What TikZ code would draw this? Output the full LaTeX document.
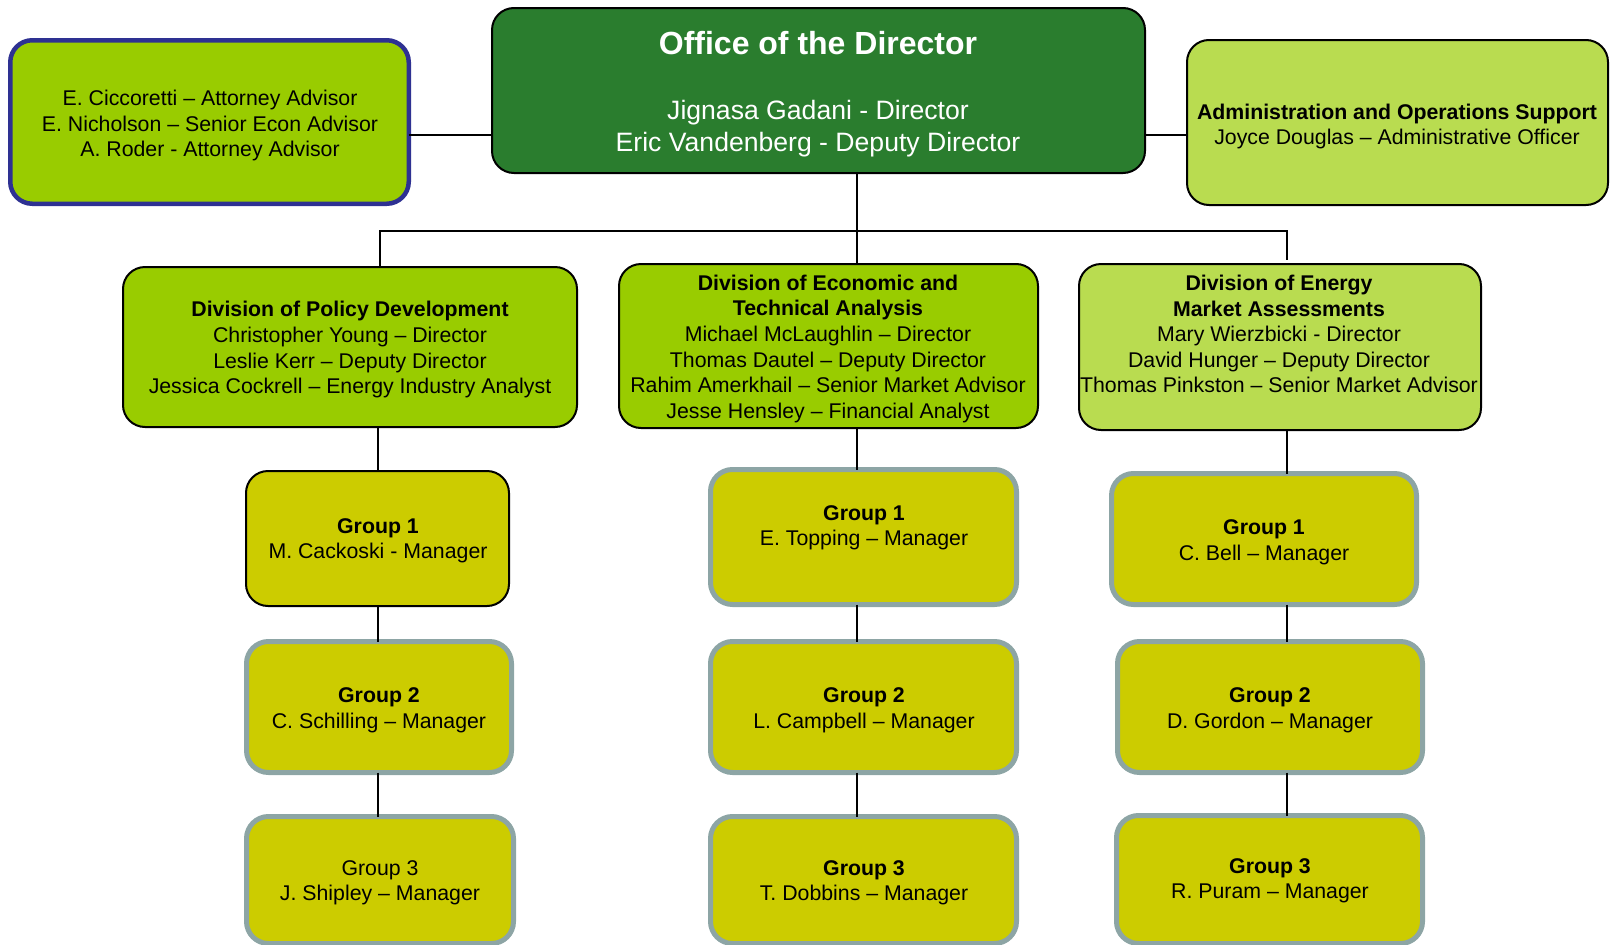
\documentclass[tikz,border=0pt]{standalone}
\usepackage{fontspec}
\setmainfont{Liberation Sans}
\definecolor{officegreen}{RGB}{42,125,46}
\definecolor{lime}{RGB}{153,204,0}
\definecolor{lightlime}{RGB}{185,220,80}
\definecolor{grpfill}{RGB}{204,204,0}
\definecolor{grpline}{RGB}{141,165,165}
\definecolor{navyline}{RGB}{46,49,146}
\tikzset{
  box/.style={rectangle, rounded corners=22pt, draw=black, line width=2pt, inner sep=0pt, outer sep=0pt},
  grp/.style={box, fill=grpfill, draw=grpline, line width=5pt},
  txt/.style={align=center, inner sep=0pt, font=\fontsize{21.3}{25.6}\selectfont},
  conn/.style={line width=2pt, draw=black},
}
\begin{document}
\begin{tikzpicture}[x=1pt, y=-1pt]
\useasboundingbox (0,0) rectangle (1610,945);
% coordinates for connector lines
\coordinate (colL) at (378,0);
\coordinate (colM) at (857,0);
\coordinate (colR) at (1287,0);
\coordinate (busy) at (0,231);
\coordinate (linky) at (0,135);
\coordinate (busL) at (380,231);

% top row
\node[box, draw=navyline, line width=4.5pt, fill=lime, minimum width=398.5pt, minimum height=163.5pt] (adv) at (209.5,122) {};
\node[box, fill=officegreen, minimum width=653pt, minimum height=165pt] (office) at (818.5,90.5) {};
\node[box, fill=lightlime, minimum width=421pt, minimum height=165pt] (admin) at (1397.5,122.5) {};

% divisions
\node[box, fill=lime, minimum width=454pt, minimum height=160pt] (policy) at (350,347) {};
\node[box, fill=lime, minimum width=419pt, minimum height=164pt] (econ) at (828.5,346) {};
\node[box, fill=lightlime, minimum width=402pt, minimum height=166pt] (energy) at (1280,347) {};

% groups
\node[box, fill=grpfill, minimum width=263pt, minimum height=135pt] (gL1) at (377.5,538.5) {};
\node[grp, minimum width=265pt, minimum height=131pt] (gL2) at (379,707) {};
\node[grp, minimum width=267pt, minimum height=127pt] (gL3) at (380,880) {};
\node[grp, minimum width=306pt, minimum height=135pt] (gM1) at (863.5,537) {};
\node[grp, minimum width=306pt, minimum height=131pt] (gM2) at (863.5,707) {};
\node[grp, minimum width=306pt, minimum height=127pt] (gM3) at (863.5,880) {};
\node[grp, minimum width=305pt, minimum height=131pt] (gR1) at (1264,539) {};
\node[grp, minimum width=305pt, minimum height=131pt] (gR2) at (1270,707) {};
\node[grp, minimum width=306pt, minimum height=128pt] (gR3) at (1269.5,879.5) {};

% connectors
\draw[conn] (adv.east |- linky) -- (office.west |- linky);
\draw[conn] (office.east |- linky) -- (admin.west |- linky);
\draw[conn] (office.south -| colM) -- (econ.north -| colM);
\draw[conn] (policy.north -| busL) -- (busL) -- (busy -| colR) -- ([yshift=4pt]energy.north -| colR);
\draw[conn] (policy.south -| colL) -- (gL1.north -| colL);
\draw[conn] (gL1.south -| colL) -- (gL2.north -| colL);
\draw[conn] (gL2.south -| colL) -- (gL3.north -| colL);
\draw[conn] (econ.south -| colM) -- (gM1.north -| colM);
\draw[conn] (gM1.south -| colM) -- (gM2.north -| colM);
\draw[conn] (gM2.south -| colM) -- (gM3.north -| colM);
\draw[conn] (energy.south -| colR) -- (gR1.north -| colR);
\draw[conn] (gR1.south -| colR) -- (gR2.north -| colR);
\draw[conn] (gR2.south -| colR) -- (gR3.north -| colR);

% texts
\node[txt] (advt) at (210,125.5) {E. Ciccoretti -- Attorney Advisor\\E. Nicholson -- Senior Econ Advisor\\A. Roder - Attorney Advisor};
\node[inner sep=0pt, text=white, font=\fontsize{32}{38}\selectfont\bfseries] (officet) at (818,43) {Office of the Director};
\node[txt, text=white, font=\fontsize{26.6}{32}\selectfont] (officen) at (818,128.8) {Jignasa Gadani - Director\\Eric Vandenberg - Deputy Director};
\node[txt] (admint) at (1397,126.3) {\textbf{Administration and Operations Support}\\Joyce Douglas -- Administrative Officer};
\node[txt] (policyt) at (350,349.75) {\textbf{Division of Policy Development}\\Christopher Young -- Director\\Leslie Kerr -- Deputy Director\\Jessica Cockrell -- Energy Industry Analyst};
\node[txt] (econt) at (828,348.75) {\textbf{Division of Economic and}\\\textbf{Technical Analysis}\\Michael McLaughlin -- Director\\Thomas Dautel -- Deputy Director\\Rahim Amerkhail -- Senior Market Advisor\\Jesse Hensley -- Financial Analyst};
\node[txt] (energyt) at (1279,334) {\textbf{Division of Energy}\\\textbf{Market Assessments}\\Mary Wierzbicki - Director\\David Hunger -- Deputy Director\\Thomas Pinkston -- Senior Market Advisor};

\node[txt] (gL1t) at (378,540.75) {\textbf{Group 1}\\M. Cackoski - Manager};
\node[txt] (gL2t) at (379,710.25) {\textbf{Group 2}\\C. Schilling -- Manager};
\node[txt] (gL3t) at (380,882.75) {Group 3\\J. Shipley -- Manager};
\node[txt] (gM1t) at (864,527.75) {\textbf{Group 1}\\E. Topping -- Manager};
\node[txt] (gM2t) at (864,710.25) {\textbf{Group 2}\\L. Campbell -- Manager};
\node[txt] (gM3t) at (864,882.75) {\textbf{Group 3}\\T. Dobbins -- Manager};
\node[txt] (gR1t) at (1264,542.25) {\textbf{Group 1}\\C. Bell -- Manager};
\node[txt] (gR2t) at (1270,710.25) {\textbf{Group 2}\\D. Gordon -- Manager};
\node[txt] (gR3t) at (1270,880.75) {\textbf{Group 3}\\R. Puram -- Manager};
\end{tikzpicture}
\end{document}
